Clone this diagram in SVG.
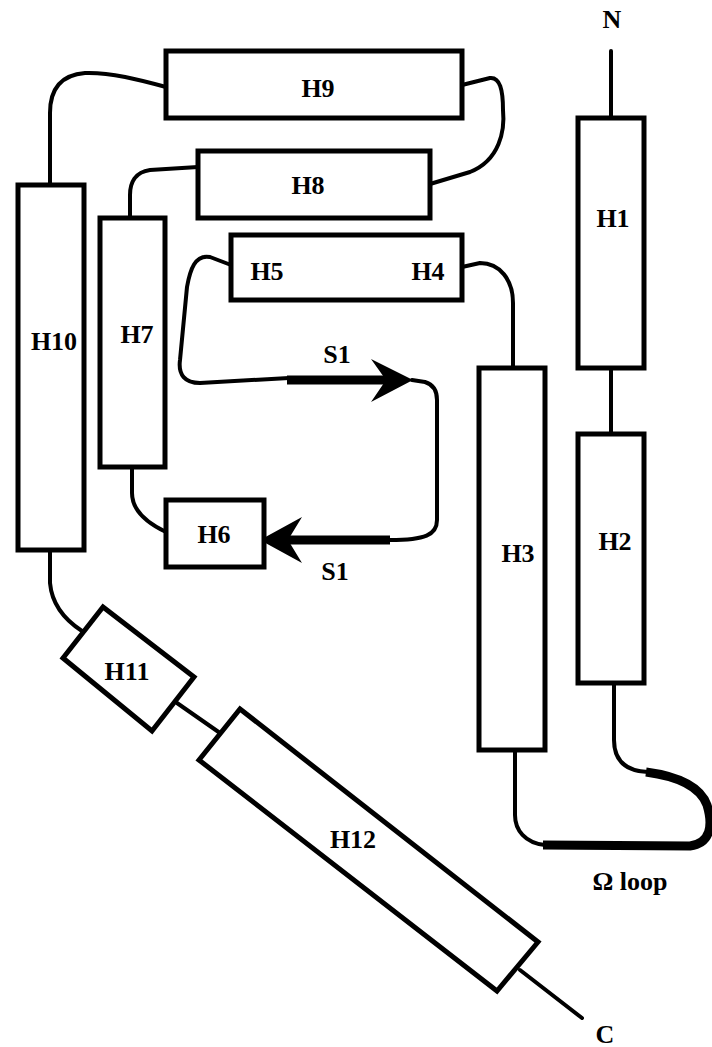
<svg xmlns="http://www.w3.org/2000/svg" width="712" height="1047" viewBox="0 0 712 1047">
<style>
.box{fill:#fff;stroke:#000;stroke-width:5}
.ln{fill:none;stroke:#000;stroke-width:4;stroke-linecap:round;stroke-linejoin:round}
.thick{fill:none;stroke:#000;stroke-width:9}
.lbl{font-family:"Liberation Serif","Times New Roman",serif;font-weight:bold;font-size:26px;text-anchor:middle;fill:#000}
</style>
<rect width="712" height="1047" fill="#fff"/>
<g id="connectors">
<line class="ln" x1="611" y1="51" x2="611" y2="118"/>
<line class="ln" x1="611" y1="368" x2="611" y2="434"/>
<path class="ln" d="M614,683 L614,740 C614,760 625,771 648,772"/>
<path class="thick" d="M646,772 C676,776 700,786 707,805 C713,825 711,843 690,846 L543,845" stroke-width="10"/>
<path class="ln" d="M545,845 C525,843 515,830 515,815 L515,750"/>
<path class="ln" d="M513,368 L513,303 C513,280 500,263 480,263 L462,267"/>
<path class="ln" d="M231,265 L210,257 C195,254 190,270 187,287 L180,360 C178,375 185,383 200,383 L289,378"/>
<line class="thick" x1="287" y1="380" x2="388" y2="380"/>
<polygon points="413,380 371,359 386,380 371,402" fill="#000"/>
<path class="ln" d="M412,380 L425,382 C435,385 437,393 437,400 L437,520 C437,535 425,540 390,540"/>
<line class="thick" x1="286" y1="540" x2="390" y2="540"/>
<polygon points="260,540 302,517 288,540 302,563" fill="#000"/>
<path class="ln" d="M132,467 L132,493 C132,510 145,522 166,532"/>
<path class="ln" d="M198,167 L150,170 C135,172 130,183 130,195 L130,218"/>
<path class="ln" d="M462,85 L490,78 C500,77 503,90 503,110 C505,130 500,160 470,172 L430,184"/>
<path class="ln" d="M50,185 L50,113 C50,90 60,75 85,73 C110,72 140,80 166,87"/>
<path class="ln" d="M50,550 L50,583 C52,605 65,620 82,631"/>
<line class="ln" x1="177" y1="703" x2="220" y2="733"/>
<line class="ln" x1="520" y1="970" x2="582" y2="1018"/>
</g>
<g id="N"><text class="lbl" x="612" y="28">N</text></g>
<g id="H1"><rect class="box" x="578" y="118" width="66" height="250"/><text class="lbl" x="613" y="227">H1</text></g>
<g id="H2"><rect class="box" x="578" y="434" width="66" height="249"/><text class="lbl" x="615" y="550">H2</text></g>
<g id="H3"><rect class="box" x="479" y="368" width="66" height="382"/><text class="lbl" x="518" y="562">H3</text></g>
<g id="H5H4"><rect class="box" x="231" y="235" width="231" height="65"/><text class="lbl" x="267" y="280">H5</text><text class="lbl" x="428" y="280">H4</text></g>
<g id="H6"><rect class="box" x="166" y="500" width="98" height="67"/><text class="lbl" x="214" y="543">H6</text></g>
<g id="H7"><rect class="box" x="100" y="218" width="65" height="249"/><text class="lbl" x="137" y="343">H7</text></g>
<g id="H8"><rect class="box" x="198" y="151" width="232" height="67"/><text class="lbl" x="308" y="194">H8</text></g>
<g id="H9"><rect class="box" x="166" y="51" width="296" height="67"/><text class="lbl" x="318" y="97">H9</text></g>
<g id="H10"><rect class="box" x="18" y="185" width="66" height="365"/><text class="lbl" x="54" y="350">H10</text></g>
<g id="H11"><polygon class="box" points="103,607 194,677 152,731 63,658"/><text class="lbl" x="127" y="680">H11</text></g>
<g id="H12"><polygon class="box" points="240,709 538,942 497,991 199,760"/><text class="lbl" x="353" y="848">H12</text></g>
<g id="C"><text class="lbl" x="605" y="1043">C</text></g>
<g id="S1a"><text class="lbl" x="337" y="363">S1</text></g>
<g id="S1b"><text class="lbl" x="335" y="580">S1</text></g>
<g id="omega"><text class="lbl" x="630" y="890">Ω loop</text></g>
</svg>
